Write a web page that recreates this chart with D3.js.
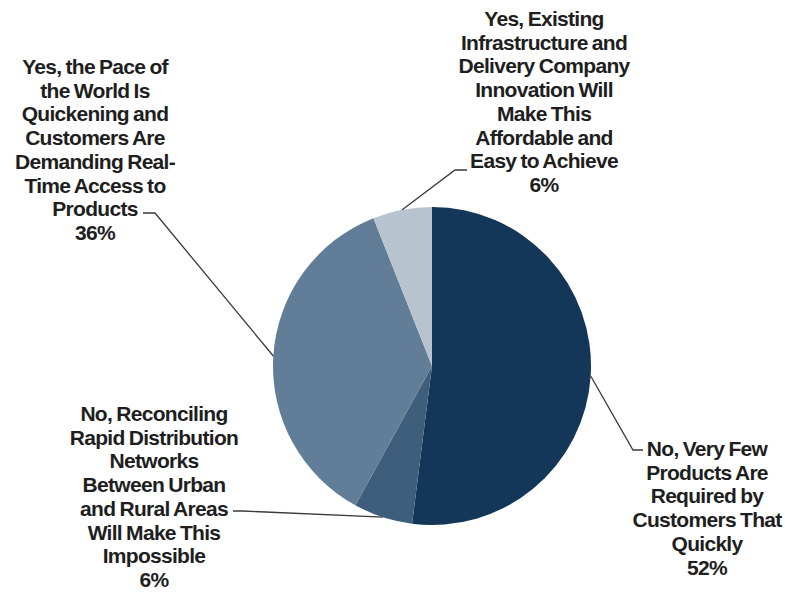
<!DOCTYPE html>
<html>
<head>
<meta charset="utf-8">
<script src="https://cdn.jsdelivr.net/npm/d3@7/dist/d3.min.js"></script>
<style>
  html, body { margin: 0; padding: 0; background: #fff; }
  svg { display: block; }
  .lbl { font-family: "Liberation Sans", Arial, sans-serif; font-weight: bold; font-size: 21px; letter-spacing: -0.7px; word-spacing: -1px; fill: #1e1e1e; }
</style>
</head>
<body>
<svg id="chart" width="785" height="592"></svg>
<script>
// Survey answers, clockwise from 12 o'clock
const answers = [
  "No, Very Few Products Are Required by Customers That Quickly",
  "No, Reconciling Rapid Distribution Networks Between Urban and Rural Areas Will Make This Impossible",
  "Yes, the Pace of the World Is Quickening and Customers Are Demanding Real-Time Access to Products",
  "Yes, Existing Infrastructure and Delivery Company Innovation Will Make This Affordable and Easy to Achieve"
];
const shares = [52, 6, 36, 6];
// Line breaks used for each label
const labelLines = [
  ["No, Very Few", "Products Are", "Required by", "Customers That", "Quickly"],
  ["No, Reconciling", "Rapid Distribution", "Networks", "Between Urban", "and Rural Areas", "Will Make This", "Impossible"],
  ["Yes, the Pace of", "the World Is", "Quickening and", "Customers Are", "Demanding Real-", "Time Access to", "Products"],
  ["Yes, Existing", "Infrastructure and", "Delivery Company", "Innovation Will", "Make This", "Affordable and", "Easy to Achieve"]
];
const sliceColors = ["#143659", "#3e5e7c", "#617d97", "#b7c4cf"];

const svg = d3.select("#chart");
const cx = 432, cy = 366, r = 159;
const g = svg.append("g").attr("transform", `translate(${cx},${cy})`);

const pie = d3.pie().sort(null).value(d => d.v)(shares.map((v, i) => ({ v, i })));
const arc = d3.arc().innerRadius(0).outerRadius(r);
const rim = d3.arc().innerRadius(r).outerRadius(r);

g.selectAll("path.slice")
  .data(pie)
  .join("path")
  .attr("class", "slice")
  .attr("d", arc)
  .attr("fill", d => sliceColors[d.data.i]);

// Label placement: text centre x, first baseline, leader elbow and leader end
const layout = [
  { x: 707, y: 456, elbow: [633, 450], end: [643, 450] },
  { x: 154, y: 421, elbow: [243, 511], end: [233, 511] },
  { x: 95,  y: 74,  elbow: [155, 213], end: [143, 213] },
  { x: 544, y: 26,  elbow: [455, 170], end: [467, 170] }
];
const lineH = 23.7;

pie.forEach(d => {
  const L = layout[d.data.i];
  const [px, py] = rim.centroid(d);
  svg.append("polyline")
    .attr("points", [[cx + px, cy + py], L.elbow, L.end].map(p => p.join(",")).join(" "))
    .attr("fill", "none")
    .attr("stroke", "#3a3a3a")
    .attr("stroke-width", 1.3);

  const lines = labelLines[d.data.i].concat([d.data.v + "%"]);
  const t = svg.append("text")
    .attr("class", "lbl")
    .attr("text-anchor", "middle")
    .attr("x", L.x)
    .attr("y", L.y);
  lines.forEach((s, k) => {
    t.append("tspan").attr("x", L.x).attr("y", L.y + k * lineH).text(s);
  });
});
</script>
</body>
</html>
